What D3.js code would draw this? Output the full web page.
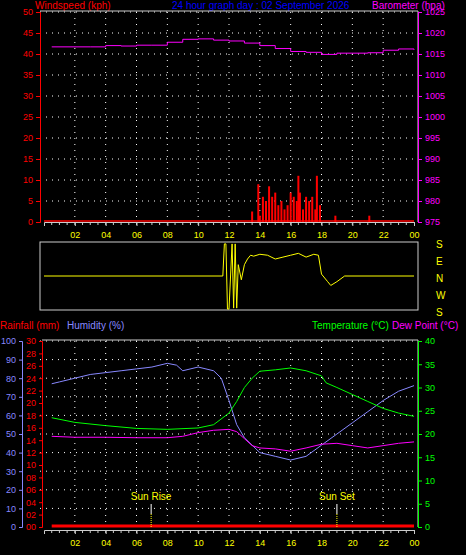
<!DOCTYPE html><html><head><script src="https://d3js.org/d3.v7.min.js"></script>
<style>body{margin:0;background:#000}text{font-family:"Liberation Sans",sans-serif;font-size:10px}.tick text{font-size:9px}</style></head><body>
<svg id="c" width="466" height="555"></svg>
<script>
const hours=[0,2,4,6,8,10,12,14,16,18,20,22,24];
const hourLabels=["02","04","06","08","10","12","14","16","18","20","22","00"];
const baroT=[0.5,3,4,5,6,7,8,9,10,11,12,13,14,15,16,17,18,19,20,21,22,23,24];
const baroV=[1016.7,1016.7,1017.0,1016.9,1017.1,1017.1,1017.8,1018.5,1018.6,1018.3,1018.1,1017.6,1017.0,1016.3,1015.6,1015.4,1014.9,1015.2,1015.2,1015.3,1015.9,1016.2,1016.0];
const windT=[13.5,13.9,14.0,14.2,14.4,14.6,14.8,15.0,15.2,15.4,15.6,15.8,16.0,16.2,16.4,16.5,16.6,16.8,17.0,17.2,17.4,17.6,17.7,17.9,18.9,21.1];
const windV=[2.5,9,1.5,6,5,8.5,6,7,4,5,3,4,7,6,5,11,7,3,6,5,6,3,11,4,1.5,1.5];
const dirT=[0,11.6,11.7,11.8,11.9,12.0,12.2,12.3,12.4,12.5,12.6,12.8,13.0,13.2,13.4,13.6,14,14.5,15,15.5,16,16.5,17,17.5,17.8,18.0,18.4,18.6,19,19.5,24];
const dirV=[0,0,170,170,-175,-175,170,-170,170,-170,60,-20,60,90,110,105,115,110,90,100,110,120,100,115,110,10,-30,-50,-30,0,0];
const humT=[0.5,1,2,3,4,5,6,7,8,8.6,9,10,11,11.5,12,12.5,13,14,15,16,17,18,19,20,21,22,23,24];
const humV=[77,78,80,82,83,84,85,86,88,87,84,86,84,80,68,55,48,40,38,36,38,44,50,56,62,68,73,76];
const tempT=[0.5,2,4,6,8,10,11,12,12.5,13,13.5,14,15,16,17,18,18.3,19,20,21,22,23,24];
const tempV=[23.5,22.5,21.8,21.2,21.0,21.3,22.0,24.5,27,30,32,33.5,33.8,34.2,33.6,32.5,31,30,28.5,27,25.5,24.5,23.8];
const dewT=[0.5,2,4,6,8,9,10,11,12,12.5,13,13.5,14,15,16,17,18,19,20,21,22,23,24];
const dewV=[19.5,19.3,19.3,19.2,19.2,19.5,20.3,20.8,21.0,20.5,19.0,17.5,17.0,16.8,16.3,17.0,17.8,18.0,17.5,17.0,17.5,18.0,18.3];
const rainV=[0,0];

const svg=d3.select("#c");
const x=d3.scaleLinear().domain([0,24]).range([44,414]);
function grid(g,y,vals){
  vals.forEach(v=>g.append("line").attr("x1",40).attr("x2",418).attr("y1",y(v)).attr("y2",y(v)).attr("stroke","#fff").attr("stroke-dasharray","1,5"));
  hours.slice(1,12).forEach(h=>g.append("line").attr("x1",x(h)).attr("x2",x(h)).attr("y1",y.range()[1]).attr("y2",y.range()[0]).attr("stroke","#fff").attr("stroke-dasharray","1,5"));
}
function colorAxis(g,c){g.selectAll("path,line").attr("stroke",c);g.selectAll("text").attr("fill",c);}
function xAxis(yPos){
  const g=svg.append("g").attr("transform",`translate(0,${yPos})`).call(d3.axisBottom(x).tickValues(hours.slice(1)).tickFormat((d,i)=>hourLabels[i]).tickSize(4));
  g.select(".domain").attr("stroke","#ccc");g.selectAll("line").attr("stroke","#ccc");g.selectAll("text").attr("fill","#ff0").attr("dy","1em");
  for(let h=0.5;h<24;h+=0.5)g.append("line").attr("x1",x(h)).attr("x2",x(h)).attr("y1",0).attr("y2",3).attr("stroke","#ccc");
}
svg.append("text").attr("x",35).attr("y",9).attr("fill","#f00").text("Windspeed (kph)");
svg.append("text").attr("x",172).attr("y",9).attr("fill","#00f").text("24 hour graph day : 02 September 2026");
svg.append("text").attr("x",372).attr("y",9).attr("fill","#f0f").text("Barometer (hpa)");
const yW=d3.scaleLinear().domain([0,50]).range([222,12]);
const yB=d3.scaleLinear().domain([975,1025]).range([222,12]);
const gt=svg.append("g");grid(gt,yW,d3.range(5,55,5));
svg.append("line").attr("x1",40).attr("x2",418).attr("y1",11).attr("y2",11).attr("stroke","#ccc");
svg.append("line").attr("x1",418).attr("x2",418).attr("y1",11).attr("y2",222).attr("stroke","#ccc");
colorAxis(svg.append("g").attr("transform","translate(40,0)").call(d3.axisLeft(yW).tickValues(d3.range(0,55,5)).tickSize(4)),"#f00");
colorAxis(svg.append("g").attr("transform","translate(418,0)").call(d3.axisRight(yB).tickValues(d3.range(975,1030,5)).tickFormat(d3.format("d")).tickSize(4)),"#f0f");
svg.append("line").attr("x1",x(0)).attr("x2",x(24)).attr("y1",yW(0)-1).attr("y2",yW(0)-1).attr("stroke","#f00").attr("stroke-width",1.5);
svg.selectAll(".wb").data(windT).join("rect").attr("x",d=>x(d)-1).attr("width",2).attr("y",(d,i)=>yW(windV[i])).attr("height",(d,i)=>yW(0)-yW(windV[i])).attr("fill","#f00");
svg.append("path").datum(baroT).attr("d",d3.line().x(d=>x(d)).y((d,i)=>yB(baroV[i])).curve(d3.curveStepAfter)).attr("fill","none").attr("stroke","#f0f");
xAxis(222);
const yD=d3.scaleLinear().domain([-180,180]).range([310,242]);
svg.append("rect").attr("x",40).attr("y",242).attr("width",378).attr("height",68).attr("fill","none").attr("stroke","#ccc");
svg.append("path").datum(dirT).attr("d",d3.line().x(d=>x(d)).y((d,i)=>yD(dirV[i]))).attr("fill","none").attr("stroke","#ff0");
["S","E","N","W","S"].forEach((t,i)=>svg.append("text").attr("x",436).attr("y",248+i*17).attr("fill","#ff0").attr("font-size",12).text(t));
svg.append("text").attr("x",0).attr("y",329).attr("fill","#f00").text("Rainfall (mm)");
svg.append("text").attr("x",67).attr("y",329).attr("fill","#88f").text("Humidity (%)");
svg.append("text").attr("x",312).attr("y",329).attr("fill","#0f0").text("Temperature (°C)");
svg.append("text").attr("x",392).attr("y",329).attr("fill","#f0f").text("Dew Point (°C)");
const yH=d3.scaleLinear().domain([0,100]).range([527,341]);
const yR=d3.scaleLinear().domain([0,30]).range([527,341]);
const yT=d3.scaleLinear().domain([0,40]).range([527,341]);
const gb=svg.append("g");grid(gb,yR,d3.range(3,33,3));
svg.append("line").attr("x1",42).attr("x2",418).attr("y1",340).attr("y2",340).attr("stroke","#ccc");
svg.append("line").attr("x1",418).attr("x2",418).attr("y1",340).attr("y2",527).attr("stroke","#ccc");
colorAxis(svg.append("g").attr("transform","translate(22,0)").call(d3.axisLeft(yH).tickValues(d3.range(0,110,10)).tickSize(3)),"#88f");
colorAxis(svg.append("g").attr("transform","translate(42,0)").call(d3.axisLeft(yR).tickValues(d3.range(0,32,2)).tickFormat(d3.format("02d")).tickSize(3)),"#f00");
colorAxis(svg.append("g").attr("transform","translate(418,0)").call(d3.axisRight(yT).tickValues(d3.range(0,45,5)).tickSize(4)),"#0f0");
svg.append("path").datum(humT).attr("d",d3.line().x(d=>x(d)).y((d,i)=>yH(humV[i]))).attr("fill","none").attr("stroke","#88f");
svg.append("path").datum(tempT).attr("d",d3.line().x(d=>x(d)).y((d,i)=>yT(tempV[i]))).attr("fill","none").attr("stroke","#0f0");
svg.append("path").datum(dewT).attr("d",d3.line().x(d=>x(d)).y((d,i)=>yT(dewV[i]))).attr("fill","none").attr("stroke","#f0f");
svg.append("line").attr("x1",x(0.5)).attr("x2",x(24)).attr("y1",yR(rainV[0])-1).attr("y2",yR(rainV[1])-1).attr("stroke","#f00").attr("stroke-width",3);
[[6.95,"Sun Rise"],[19.0,"Sun Set"]].forEach(([h,t])=>{
  svg.append("line").attr("x1",x(h)).attr("x2",x(h)).attr("y1",504).attr("y2",514).attr("stroke","#fff");
  svg.append("line").attr("x1",x(h)).attr("x2",x(h)).attr("y1",514).attr("y2",527).attr("stroke","#ff0").attr("stroke-dasharray","1,1");
  svg.append("text").attr("x",x(h)).attr("y",500).attr("text-anchor","middle").attr("fill","#ff0").attr("font-size",9).text(t);
});
xAxis(530);
</script></body></html>
